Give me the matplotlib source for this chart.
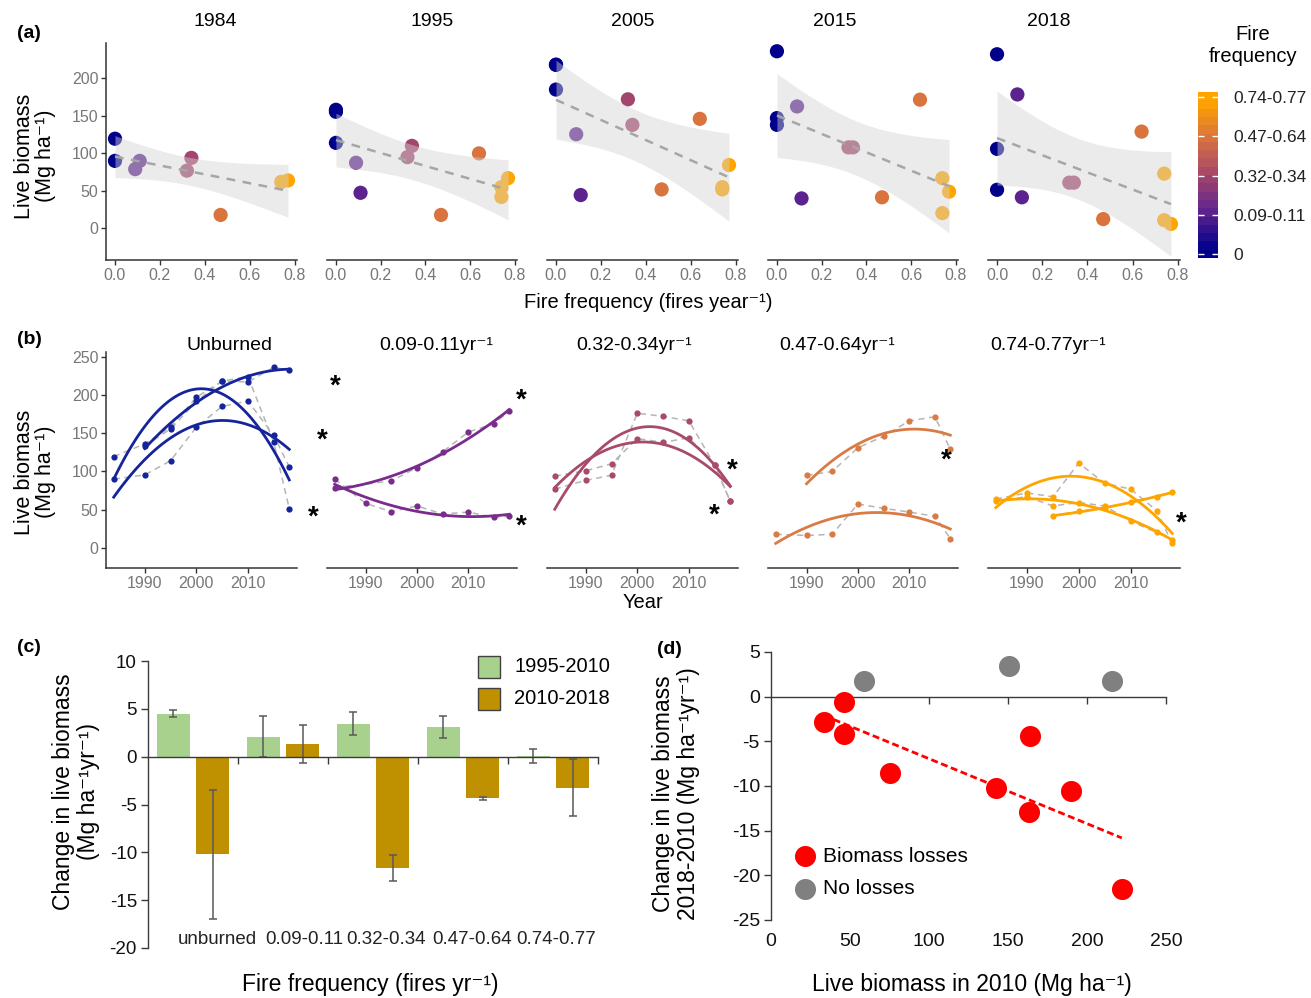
import numpy as np

import matplotlib
matplotlib.use("Agg")
import matplotlib.pyplot as plt
from matplotlib.colors import LinearSegmentedColormap, Normalize
from matplotlib.patches import Rectangle

W, H = 1311, 998
nan = np.nan

# ---------------- data: live biomass per site (Mg/ha) ----------------
years = [1984, 1990, 1995, 2000, 2005, 2010, 2015, 2018]
unburned_a = [nan, 133.5, 155.4, 191.5, 218, 217, 236, 232]
unburned_b = [119.5, 136, 158, 197, 218, 224, 138, 51.5]
unburned_c = [90, 95.5, 114, 158, 185, 192, 147, 106]
ff009 = [79, nan, 87.5, 105, 125.5, 151.5, 162.5, 178.5]
ff011 = [90, 58.5, 47.5, 55, 44.5, 47, 40, 41.5]
ff032 = [77, 88.5, 95, 176, 172, 166, 108, 61]
ff034 = [94, 101, 110, 143, 138, 144, 108, 61]
ff047 = [18, 16.5, 18, 57.5, 52, 47, 41.5, 12.5]
ff064 = [nan, 95, 100, 131, 146, 166, 171.5, 129]
ff074_a = [nan, nan, 42, 48, 52, 60, 67, 73]
ff074_b = [62, 67, 55, 59.5, 55, 35, 20.5, 11]
ff077 = [64, 72, 67, 111, 84.5, 77, 49, 6]

site_series = [unburned_a, unburned_b, unburned_c, ff009, ff011, ff032, ff034,
               ff047, ff064, ff074_a, ff074_b, ff077]
site_freq = [0, 0, 0, 0.09, 0.11, 0.32, 0.34, 0.47, 0.64, 0.74, 0.74, 0.77]
site_class = [0, 0, 0, 1, 1, 2, 2, 3, 3, 4, 4, 4]

snapshot_years = [1984, 1995, 2005, 2015, 2018]
class_labels = ["0", "0.09-0.11", "0.32-0.34", "0.47-0.64", "0.74-0.77"]
class_titles = ["Unburned", "0.09-0.11yr\u207b\u00b9", "0.32-0.34yr\u207b\u00b9",
                "0.47-0.64yr\u207b\u00b9", "0.74-0.77yr\u207b\u00b9"]

# panel (c)
groups_c = ["unburned", "0.09-0.11", "0.32-0.34", "0.47-0.64", "0.74-0.77"]
change_95_10 = [4.5, 2.1, 3.45, 3.1, 0.1]
err_95_10 = [0.35, 2.15, 1.2, 1.2, 0.75]
change_10_18 = [-10.2, 1.35, -11.65, -4.35, -3.25]
err_10_18 = [6.75, 2.0, 1.35, 0.15, 3.0]

# panel (d)
loss_x = [33.5, 46.5, 46, 75, 142.5, 164, 163.5, 190, 222]
loss_y = [-2.8, -0.6, -4.2, -8.6, -10.2, -4.4, -12.9, -10.6, -21.5]
noloss_x = [59, 150.5, 216]
noloss_y = [1.8, 3.45, 1.8]

# ---------------- style ----------------
plt.rcParams["font.family"] = ["Liberation Sans", "DejaVu Sans"]
plt.rcParams["axes.unicode_minus"] = False

SUP = "\u207b\u00b9"  # superscript -1
class_colors_b = ["#15249B", "#7A2C8C", "#A84B68", "#D97B45", "#FFA500"]
cmap = LinearSegmentedColormap.from_list(
    "fire", ["#00008B", "#5C238E", "#A3456D", "#D9733F", "#FFA500"])
cnorm = Normalize(0, 4)

PANEL_X = [(106, 297), (327, 517), (547, 738), (768, 958), (988, 1180)]
TICK_GREY = "#777777"
AX_COL = "#333333"
T975 = {7: 2.365, 8: 2.306, 9: 2.262, 10: 2.228, 11: 2.201}


def add_px_axes(fig, x0, y0, x1, y1):
    return fig.add_axes([x0 / W, 1 - y1 / H, (x1 - x0) / W, (y1 - y0) / H])


def ftext(fig, x, y, s, **kw):
    kw.setdefault("ha", "center")
    kw.setdefault("va", "center")
    return fig.text(x / W, 1 - y / H, s, **kw)


def star(fig, x, y):
    fs = 20
    off = 0.52 * fs * 100 / 72
    fig.text(x / W, 1 - (y + off) / H, "*", ha="center", va="baseline",
             fontsize=fs, fontweight="bold")


def style_gg(ax, first):
    for s in ["top", "right"]:
        ax.spines[s].set_visible(False)
    ax.spines["bottom"].set_color(AX_COL)
    ax.spines["bottom"].set_linewidth(1.1)
    if first:
        ax.spines["left"].set_color(AX_COL)
        ax.spines["left"].set_linewidth(1.1)
    else:
        ax.spines["left"].set_visible(False)
        ax.tick_params(axis="y", left=False, labelleft=False)
    ax.tick_params(colors=AX_COL, labelcolor=TICK_GREY, labelsize=11.5,
                   length=3.5, width=1, pad=2)


def lm_band(x, y, xg):
    x = np.asarray(x, float)
    y = np.asarray(y, float)
    n = len(x)
    b, a = np.polyfit(x, y, 1)
    res = y - (a + b * x)
    s = np.sqrt(np.sum(res ** 2) / (n - 2))
    sxx = np.sum((x - x.mean()) ** 2)
    se = s * np.sqrt(1.0 / n + (xg - x.mean()) ** 2 / sxx)
    fit = a + b * xg
    t = T975.get(n - 2, 2.228)
    return fit, fit - t * se, fit + t * se


def panel_a(fig):
    for k, yr in enumerate(snapshot_years):
        ax = add_px_axes(fig, PANEL_X[k][0], 43, PANEL_X[k][1], 260)
        iy = years.index(yr)
        xs, ys, cs = [], [], []
        for ser, fq, cl in zip(site_series, site_freq, site_class):
            v = ser[iy]
            if not np.isnan(v):
                xs.append(fq)
                ys.append(v)
                cs.append(cmap(cnorm(cl)))
        ax.scatter(xs, ys, s=105, c=cs, linewidths=0, zorder=2)
        xg = np.linspace(min(xs), max(xs), 100)
        fit, lo, hi = lm_band(xs, ys, xg)
        ax.fill_between(xg, lo, hi, color="#D4D4D4", alpha=0.45, lw=0, zorder=3)
        ax.plot(xg, fit, color="#A6A6A6", lw=1.8, dashes=(3.5, 3), zorder=4)
        ax.set_xlim(-0.04, 0.81)
        ax.set_ylim(-42, 247)
        ax.set_xticks([0, 0.2, 0.4, 0.6, 0.8])
        ax.set_xticklabels(["0.0", "0.2", "0.4", "0.6", "0.8"])
        ax.set_yticks([0, 50, 100, 150, 200])
        style_gg(ax, k == 0)

    for x, s in zip([215, 432, 633, 835, 1049], snapshot_years):
        ftext(fig, x, 22, str(s), fontsize=14)
    ftext(fig, 35, 156, "Live biomass\n(Mg ha" + SUP + ")", rotation=90,
          fontsize=15.5, linespacing=1.05)
    ftext(fig, 648, 302, "Fire frequency (fires year" + SUP + ")", fontsize=14.5)

    # colour bar
    cax = add_px_axes(fig, 1198, 92, 1218, 258)
    grad = np.linspace(-0.1, 4.13, 20).reshape(-1, 1)
    cax.imshow(grad, aspect="auto", origin="lower", extent=[0, 1, -0.1, 4.13],
               cmap=cmap, norm=cnorm, interpolation="nearest")
    cax.set_xlim(0, 1)
    cax.set_ylim(-0.1, 4.13)
    for s in cax.spines.values():
        s.set_visible(False)
    cax.set_xticks([])
    cax.set_yticks(range(5))
    cax.set_yticklabels(class_labels)
    cax.yaxis.tick_right()
    cax.tick_params(axis="y", left=True, right=True, direction="in",
                    color="white", length=4, width=1, labelsize=12.5,
                    labelcolor="#222222", pad=11)
    ftext(fig, 1253, 45, "Fire\nfrequency", fontsize=14.5, linespacing=1.2)


def panel_b(fig):
    yrs = np.array(years, float)
    for k in range(5):
        ax = add_px_axes(fig, PANEL_X[k][0], 352, PANEL_X[k][1], 568)
        col = class_colors_b[k]
        for ser, cl in zip(site_series, site_class):
            if cl != k:
                continue
            v = np.array(ser, float)
            m = ~np.isnan(v)
            ax.plot(yrs[m], v[m], color="#B5B5B5", lw=1.1, dashes=(4, 3), zorder=1)
            coef = np.polyfit(yrs[m] - 2000, v[m], 2)
            tg = np.linspace(yrs[m].min(), yrs[m].max(), 120)
            ax.plot(tg, np.polyval(coef, tg - 2000), color=col, lw=2.0, zorder=2)
            ax.plot(yrs[m], v[m], "o", color=col, ms=4.5, mew=0, zorder=3)
        ax.set_xlim(1982.5, 2019.5)
        ax.set_ylim(-26, 256)
        ax.set_xticks([1990, 2000, 2010])
        ax.set_yticks([0, 50, 100, 150, 200, 250])
        style_gg(ax, k == 0)

    for x, s in zip([229, 436, 634, 837, 1048], class_titles):
        ftext(fig, x, 345, s, fontsize=14)
    ftext(fig, 35, 472, "Live biomass\n(Mg ha" + SUP + ")", rotation=90,
          fontsize=15.5, linespacing=1.05)
    ftext(fig, 643, 602, "Year", fontsize=14.5)

    for x, y in [(313, 510), (322, 433), (335, 379), (521, 393), (521, 519),
                 (732, 463), (714, 508), (946, 453), (1181, 516)]:
        star(fig, x, y)


def panel_c(fig):
    ax = add_px_axes(fig, 148, 661, 598, 948)
    x = np.arange(len(groups_c))
    ax.bar(x - 0.22, change_95_10, width=0.37, color="#A9D18E", zorder=2)
    ax.bar(x + 0.22, change_10_18, width=0.37, color="#BF9000", zorder=2)
    ax.errorbar(x - 0.22, change_95_10, yerr=err_95_10, fmt="none",
                ecolor="#595959", elinewidth=1.1, capsize=3, capthick=1.1, zorder=3)
    ax.errorbar(x + 0.22, change_10_18, yerr=err_10_18, fmt="none",
                ecolor="#595959", elinewidth=1.1, capsize=3, capthick=1.1, zorder=3)
    ax.set_xlim(-0.5, 4.5)
    ax.set_ylim(-20, 10)
    for s in ["top", "right"]:
        ax.spines[s].set_visible(False)
    ax.spines["bottom"].set_position(("data", 0))
    for s in ["left", "bottom"]:
        ax.spines[s].set_color("#3A3A3A")
        ax.spines[s].set_linewidth(1.0)
    ax.spines["bottom"].set_zorder(4)
    ax.set_xticks([0.5, 1.5, 2.5, 3.5, 4.5])
    ax.set_xticklabels([])
    ax.set_yticks([-20, -15, -10, -5, 0, 5, 10])
    ax.tick_params(axis="both", colors="#3A3A3A", length=5, width=1,
                   labelsize=13.5, labelcolor="#111111", pad=3)
    # category labels sit low and slightly right of the groups, as in the source
    for px, lab in zip([217, 304, 386, 472, 556], groups_c):
        ftext(fig, px, 939, lab, fontsize=13.5, color="#222222")

    ftext(fig, 76, 792, "Change in live biomass\n(Mg ha" + SUP + "yr" + SUP + ")",
          rotation=90, fontsize=16.5, linespacing=1.1)
    ftext(fig, 370, 985, "Fire frequency (fires yr" + SUP + ")", fontsize=16.5)

    for y0, col, lab in [(656, "#A9D18E", "1995-2010"), (688, "#BF9000", "2010-2018")]:
        fig.add_artist(Rectangle((478 / W, 1 - (y0 + 22) / H), 22 / W, 22 / H,
                                 transform=fig.transFigure, facecolor=col,
                                 edgecolor="#404040", lw=1))
        ftext(fig, 514, y0 + 11, lab, ha="left", fontsize=14.5)


def panel_d(fig):
    ax = add_px_axes(fig, 771, 652, 1166, 920)
    ax.scatter(noloss_x, noloss_y, s=230, c="#808080", linewidths=0, zorder=3)
    ax.scatter(loss_x, loss_y, s=230, c="#FF0000", linewidths=0, zorder=3)
    b, a = np.polyfit(loss_x, loss_y, 1)
    xg = np.linspace(min(loss_x), max(loss_x), 50)
    ax.plot(xg, a + b * xg, color="#FF0000", lw=2.0, dashes=(2.5, 1.3), zorder=2)
    ax.set_xlim(0, 250)
    ax.set_ylim(-25, 5)
    for s in ["top", "right"]:
        ax.spines[s].set_visible(False)
    ax.spines["bottom"].set_position(("data", 0))
    for s in ["left", "bottom"]:
        ax.spines[s].set_color("#3A3A3A")
        ax.spines[s].set_linewidth(1.0)
    ax.set_xticks([50, 100, 150, 200, 250])
    ax.set_yticks([-25, -20, -15, -10, -5, 0, 5])
    ax.tick_params(axis="x", labelbottom=False)
    ax.tick_params(axis="both", colors="#3A3A3A", length=5, width=1,
                   labelsize=14, labelcolor="#111111", pad=3)
    sec = ax.secondary_xaxis(0)
    sec.set_xticks([0, 50, 100, 150, 200, 250])
    sec.spines["bottom"].set_visible(False)
    sec.tick_params(length=0, labelsize=14, labelcolor="#111111", pad=9)

    ax.scatter([0.086], [0.24], s=230, c="#FF0000", linewidths=0,
               transform=ax.transAxes, clip_on=False)
    ax.scatter([0.086], [0.116], s=230, c="#808080", linewidths=0,
               transform=ax.transAxes, clip_on=False)
    ftext(fig, 823, 856, "Biomass losses", ha="left", fontsize=15)
    ftext(fig, 823, 889, "No losses", ha="left", fontsize=15)

    ftext(fig, 676, 794, "Change in live biomass\n2018-2010 (Mg ha" + SUP + "yr" + SUP + ")",
          rotation=90, fontsize=16.5, linespacing=1.1)
    ftext(fig, 972, 985, "Live biomass in 2010 (Mg ha" + SUP + ")", fontsize=16.5)


def main():
    fig = plt.figure(figsize=(W / 100, H / 100), dpi=100)
    panel_a(fig)
    panel_b(fig)
    panel_c(fig)
    panel_d(fig)
    for x, y, s in [(29, 33, "(a)"), (29, 340, "(b)"), (29, 648, "(c)"), (669, 649, "(d)")]:
        ftext(fig, x, y, s, fontsize=14, fontweight="bold")
    fig.savefig("out.png", dpi=100)
    plt.close(fig)


if __name__ == "__main__":
    main()
